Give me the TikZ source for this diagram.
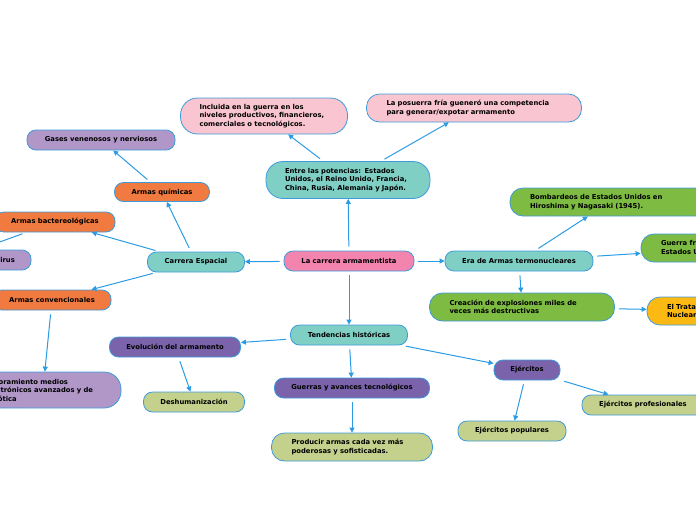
\documentclass[tikz,border=0pt]{standalone}
\usepackage{fontspec}
\setmainfont{DejaVu Sans}
\usetikzlibrary{arrows.meta}

\definecolor{edgeblue}{RGB}{61,155,219}
\definecolor{arrowblue}{RGB}{43,155,227}
\definecolor{rootpink}{RGB}{243,132,174}
\definecolor{paleteal}{RGB}{128,207,197}
\definecolor{warmorange}{RGB}{240,122,64}
\definecolor{lavender}{RGB}{176,151,200}
\definecolor{palepink}{RGB}{249,197,209}
\definecolor{leafgreen}{RGB}{125,187,66}
\definecolor{amber}{RGB}{253,185,19}
\definecolor{deeppurple}{RGB}{122,99,171}
\definecolor{olive}{RGB}{195,209,140}

\tikzset{
  topic/.style={draw=edgeblue, line width=0.8pt, rounded corners=9pt,
    font=\bfseries\fontsize{6.8}{8.5}\selectfont, text=black,
    minimum height=20pt, inner xsep=6pt, inner ysep=2pt},
  multi/.style={topic, text width=#1, align=left, inner xsep=20pt,
    minimum height=28pt, rounded corners=13pt},
  link/.style={draw=arrowblue, line width=1pt,
    -{Triangle[length=5pt,width=5pt]}, shorten <=4pt},
}

\begin{document}
\begin{tikzpicture}[x=1pt,y=-1pt]
  \useasboundingbox (0,0) rectangle (696,520);
  \clip (0,0) rectangle (696,520);

  % centre
  \node[topic,fill=rootpink,minimum width=130pt] (root) at (349,261) {La carrera armamentista};

  % left branch
  \node[topic,fill=paleteal,minimum width=97pt] (space) at (196,262) {Carrera Espacial};
  \node[topic,fill=warmorange,minimum width=95pt,minimum height=19pt] (chem) at (162,192) {Armas químicas};
  \node[topic,fill=lavender,minimum width=148pt] (gas) at (101,140) {Gases venenosos y nerviosos};
  \node[topic,fill=warmorange,minimum width=120pt] (bact) at (55,222) {Armas bactereológicas};
  \node[topic,fill=lavender,minimum width=52pt] (virus) at (5,260) {Virus};
  \node[topic,fill=warmorange,minimum width=118pt] (conv) at (52,300) {Armas convencionales};
  \node[multi=116pt,fill=lavender,minimum height=36pt,rounded corners=17pt] (elec) at (43,390)
    {Mejoramiento medios\\electrónicos avanzados y de\\robótica};

  % top branch
  \node[multi=126pt,fill=paleteal,minimum height=37pt,rounded corners=17pt,inner xsep=19pt] (powers) at (348,180)
    {Entre las potencias: Estados\\Unidos, el Reino Unido, Francia,\\China, Rusia, Alemania y Japón.};
  \node[multi=129pt,fill=palepink,minimum height=36pt,rounded corners=17pt,inner xsep=19pt] (incl) at (264,116)
    {Incluida en la guerra en los\\niveles productivos, financieros,\\comerciales o tecnológicos.};
  \node[multi=175pt,fill=palepink] (postwar) at (474,108)
    {La posuerra fría gueneró una competencia\\para generar/expotar armamento};

  % right branch
  \node[topic,fill=paleteal,minimum width=148pt] (thermo) at (519,261) {Era de Armas termonucleares};
  \node[multi=160pt,fill=leafgreen] (bomb) at (610,202)
    {Bombardeos de Estados Unidos en\\Hiroshima y Nagasaki (1945).};
  \node[multi=130pt,fill=leafgreen] (cold) at (726,248)
    {Guerra fría entre\\Estados Unidos y la URSS};
  \node[multi=145pt,fill=leafgreen] (blast) at (522,307)
    {Creación de explosiones miles de\\veces más destructivas};
  \node[multi=130pt,fill=amber] (treaty) at (732,311)
    {El Tratado de No Proliferación\\Nuclear};

  % bottom branch
  \node[topic,fill=paleteal,minimum width=117pt] (trend) at (349,335) {Tendencias históricas};
  \node[topic,fill=deeppurple,minimum width=131pt] (evol) at (175,347) {Evolución del armamento};
  \node[topic,fill=olive,minimum width=101pt] (dehum) at (194,402) {Deshumanización};
  \node[topic,fill=deeppurple,minimum width=155pt] (wars) at (352,388) {Guerras y avances tecnológicos};
  \node[multi=121pt,fill=olive] (produce) at (352,447)
    {Producir armas cada vez más\\poderosas y sofisticadas.};
  \node[topic,fill=deeppurple,minimum width=66pt] (army) at (527,370) {Ejércitos};
  \node[topic,fill=olive,minimum width=122pt] (pro) at (643,405) {Ejércitos profesionales};
  \node[topic,fill=olive,minimum width=108pt] (popular) at (512,431) {Ejércitos populares};

  % connectors
  \draw[link] (root) -- (space);
  \draw[link] (root) -- (thermo);
  \draw[link] (root) -- (powers);
  \draw[link] (root) -- (trend);

  \draw[link] (space) -- (chem);
  \draw[link] (space) -- (bact);
  \draw[link] (space) -- (conv);
  \draw[link] (chem) -- (gas);
  \draw[link] (bact) -- (virus.north west);
  \draw[link] (conv) -- (elec);

  \draw[link] (powers) -- (incl);
  \draw[link] (powers) -- (postwar);

  \draw[link] (thermo) -- (bomb);
  \draw[link] (thermo) -- (cold);
  \draw[link] (thermo) -- (blast);
  \draw[link] (blast) -- (treaty);

  \draw[link] (trend) -- (evol);
  \draw[link] (trend) -- (wars);
  \draw[link] (trend) -- (army);
  \draw[link] (evol) -- (dehum);
  \draw[link] (wars) -- (produce);
  \draw[link] (army) -- (pro);
  \draw[link] (army) -- (popular);
\end{tikzpicture}
\end{document}
